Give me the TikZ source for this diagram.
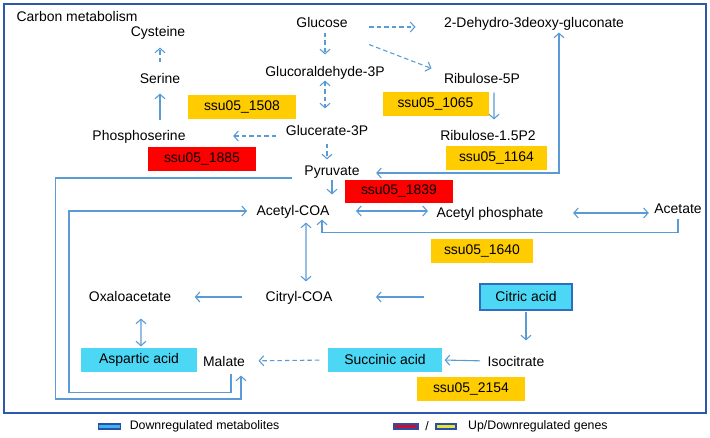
\documentclass[tikz,border=0pt]{standalone}
\usepackage{fontspec}
\setmainfont{Liberation Sans}
\usetikzlibrary{arrows.meta,positioning}
\usetikzlibrary{calc}
\definecolor{arrowblue}{HTML}{5B9BD5}
\definecolor{framebl}{HTML}{2E57AE}
\definecolor{geneyel}{HTML}{FFCC00}
\definecolor{genered}{HTML}{FF0000}
\definecolor{metcyan}{HTML}{4CD8F5}
\definecolor{cacborder}{HTML}{2F6DC0}
\definecolor{legblue}{HTML}{3DB4EE}
\definecolor{legred}{HTML}{C8102E}
\definecolor{legyel}{HTML}{E6E23C}
\definecolor{legborder}{HTML}{2B4FA8}

\begin{document}
\begin{tikzpicture}[x=1bp, y=-1bp, line width=1.1bp]
% Define block styles
\tikzstyle{met} = [inner sep=0pt, text height=10bp, text depth=0pt,
    font=\fontsize{14}{16}\selectfont]
\tikzstyle{downgene} = [rectangle, fill=geneyel, minimum width=106bp,
    minimum height=24bp, inner sep=0pt, font=\fontsize{14}{16}\selectfont]
\tikzstyle{upgene} = [downgene, fill=genered]
\tikzstyle{metab} = [rectangle, fill=metcyan, minimum height=24bp,
    inner sep=0pt, font=\fontsize{14}{16}\selectfont]
\tikzstyle{line} = [draw=arrowblue, -{Straight Barb[length=4.5bp,width=10bp]}]
\tikzstyle{biline} = [draw=arrowblue,
    {Straight Barb[length=4.5bp,width=10bp]}-{Straight Barb[length=4.5bp,width=10bp]}]
\tikzstyle{dline} = [dash pattern=on 4.5bp off 3bp]
\tikzstyle{legbox} = [rectangle, draw=legborder, line width=1.4bp,
    minimum width=22bp, minimum height=5bp, inner sep=0pt]
\tikzstyle{legtext} = [inner sep=0pt, font=\fontsize{12.4}{14}\selectfont]

\useasboundingbox (0,0) rectangle (710,438);
\draw [framebl, line width=2bp] (4,4) rectangle (706,413);

    % Place nodes
    \node [met, anchor=west] (title) at (16,17) {Carbon metabolism};
    \node [met] (cys) at (158,32) {Cysteine};
    \node [met] (ser) at (160,79) {Serine};
    \node [met] (phos) at (139,136) {Phosphoserine};
    \node [met] (glc) at (322,23) {Glucose};
    \node [met] (gald) at (325,72) {Glucoraldehyde-3P};
    \node [met] (gle) at (327,131) {Glucerate-3P};
    \node [met] (pyr) at (332,171) {Pyruvate};
    \node [met] (deh) at (534,23) {2-Dehydro-3deoxy-gluconate};
    \node [met] (rib5) at (482,79) {Ribulose-5P};
    \node [met] (rib15) at (488,136) {Ribulose-1.5P2};
    \node [met] (acoa) at (293,211) {Acetyl-COA};
    \node [met] (aph) at (490,213) {Acetyl phosphate};
    \node [met] (act) at (678,209) {Acetate};
    \node [met] (cit) at (299,297) {Citryl-COA};
    \node [met] (oxa) at (130,297) {Oxaloacetate};
    \node [met] (mal) at (224,361) {Malate};
    \node [met] (iso) at (516,361) {Isocitrate};
    \node [metab, minimum width=116bp] (asp) at (139,360) {Aspartic acid};
    \node [metab, minimum width=114bp] (suc) at (385,360) {Succinic acid};
    \node [metab, draw=cacborder, line width=1.2bp, minimum width=92bp,
        minimum height=26bp] (cac) at (526,297) {Citric acid};
    % genes
    \node [downgene, minimum width=108bp] (g1508) at (242,107.5) {ssu05\_1508};
    \node [upgene, minimum width=108bp] (g1885) at (202,159.5) {ssu05\_1885};
    \node [downgene] (g1065) at (435.5,104.5) {ssu05\_1065};
    \node [downgene, minimum width=101bp] (g1164) at (496.5,158) {ssu05\_1164};
    \node [upgene, minimum width=108bp, minimum height=23bp] (g1839) at (399,191.5) {ssu05\_1839};
    \node [downgene, minimum width=102bp] (g1640) at (482,251) {ssu05\_1640};
    \node [downgene, minimum width=108bp] (g2154) at (471,389) {ssu05\_2154};
    % legend
    \node [legbox, fill=legblue] (lmet) at (109.5,426.5) {};
    \node [legtext, right=8bp of lmet] (lmettxt) {Downregulated metabolites};
    \node [legbox, fill=legred, minimum width=24bp] (lup) at (406,426.5) {};
    \node [legtext, right=6bp of lup] (lsep) {/};
    \node [legbox, fill=legyel, minimum width=20bp, right=6bp of lsep] (ldown) {};
    \node [legtext, right=11bp of ldown] (lgenetxt) {Up/Downregulated genes};

    % Draw edges
    \path [line, dline, shorten <=11bp, shorten >=10bp] (ser.north) -- (ser.north |- cys.south);
    \path [line, shorten <=10bp, shorten >=9bp] (phos.north -| ser.south) -- (ser.south);
    \path [line, dline, shorten <=9bp, shorten >=47bp] (gle.west |- phos.east) -- (phos.east);
    \path [line, dline, shorten <=4bp, shorten >=12bp] (glc.south -| gald.north) -- (gald.north);
    \path [biline, dline, shorten <=3bp, shorten >=17bp] (gald.south) -- (gald.south |- gle.north);
    \path [line, dline, shorten <=7bp, shorten >=6bp] (gle.south) -- (gle.south |- pyr.north);
    \path [line, shorten <=3bp, shorten >=11bp] (pyr.south) -- (pyr.south |- acoa.north);
    \path [line, dline, shorten <=21bp, shorten >=28bp] ([yshift=-4bp]glc.east) -- ([yshift=-4bp]deh.west);
    \path [line, dline] ([xshift=21bp,yshift=-16bp]glc.south east) -- ([xshift=-12bp,yshift=5bp]rib5.north west);
    \path [line] ([xshift=12bp,yshift=-8bp]rib5.south) -- ([xshift=6bp,yshift=11bp]rib15.north);
    \path [biline] ([xshift=16bp,yshift=-2bp]pyr.east) -| ([xshift=25bp,yshift=-4bp]deh.south);
    \path [biline, shorten <=26bp, shorten >=8bp] (acoa.east) -- (acoa.east -| aph.west);
    \path [biline, shorten <=29bp, shorten >=5bp] (aph.east) -- (aph.east -| act.west);
    \path [line] ([yshift=-4bp]act.south) -- ([yshift=-18bp]act.south) -| ([xshift=29bp,yshift=-3bp]acoa.south);
    \path [biline, shorten <=6bp, shorten >=10bp] ([xshift=13bp]acoa.south) -- ([xshift=7bp]cit.north);
    \path [line, shorten <=55bp, shorten >=43bp] (cac.west) -- (cit.east);
    \path [line, shorten <=23bp, shorten >=23bp] (cit.west) -- (oxa.east);
    \path [biline, shorten <=16bp, shorten >=1bp] ([xshift=11bp]oxa.south) -- ([xshift=2bp]asp.north);
    \path [line, shorten <=1bp, shorten >=15bp] (cac.south) -- (cac.south |- iso.north);
    \path [line, shorten <=7bp, shorten >=2bp] (iso.west) -- (suc.east);
    \path [line, dline, shorten <=8bp, shorten >=13bp] (suc.west) -- (mal.east);
    \path [line] ([xshift=-12bp,yshift=-7bp]pyr.west) -- ++(-236,0) -- ++(0,221) -| ([xshift=17bp,yshift=-9bp]mal.south);
    \path [line] ([xshift=7bp,yshift=-7bp]mal.south) -- ++(0,19) -- ++(-162,0) |- ([xshift=-9bp]acoa.west);
\end{tikzpicture}
\end{document}
